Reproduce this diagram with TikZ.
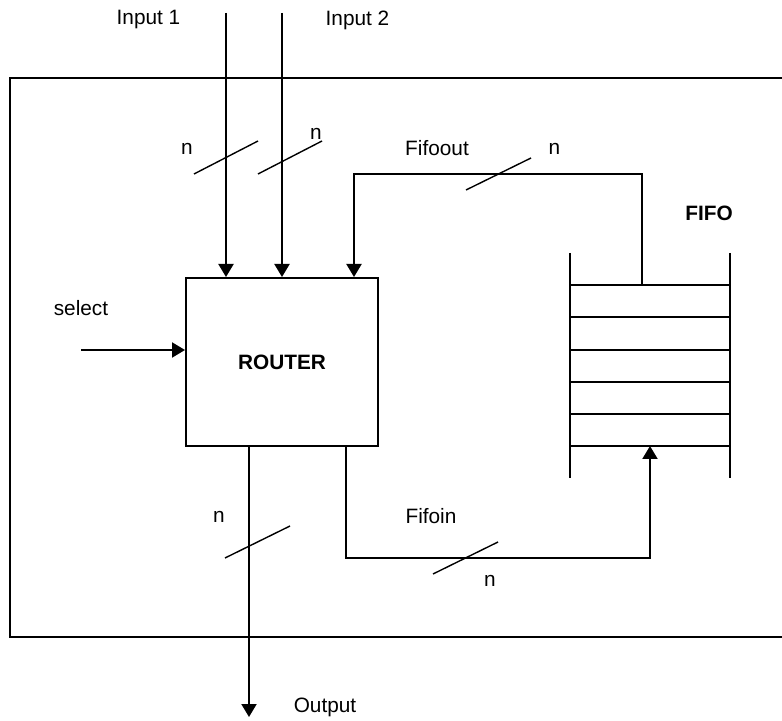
\documentclass[tikz,border=0pt]{standalone}
\usepackage{fontspec}
\setmainfont{Liberation Sans}
\usetikzlibrary{arrows.meta, positioning, calc}
\tikzset{
  myarr/.style   = {-{Triangle[length=6.5pt, width=7.5pt]}, line width=1pt},
  busmark/.style = {line width=0.7pt},
  %% Box presets
  rbox/.style = {draw, line width=1pt, minimum width=96pt, minimum height=84pt,
                 inner sep=0pt, font=\bfseries\fontsize{10.4}{12}\selectfont},
  lbl/.style  = {inner sep=0pt, font=\fontsize{10.4}{12}\selectfont},
}

\begin{document}
\begin{tikzpicture}[x=0.5pt, y=-0.5pt, line width=1pt]

\clip (0,0) rectangle (782,721);

%% ---- (1) Outer frame (runs off the right edge) ----
\draw (790,78) -- (10,78) -- (10,637) -- (790,637);

%% ---- (2) Router ----
\node[rbox] (router) at (282,362) {ROUTER};

%% ---- (3) FIFO stack ----
\draw (570,253) -- (570,478);
\draw (730,253) -- (730,478);
\foreach \y in {285,317.5,350,382,414,446}
  \draw (570,\y) -- (730,\y);
\coordinate (fifotop) at (642,285);
\coordinate (fifobot) at (650,446);
\node[lbl, font=\bfseries\fontsize{10.4}{12}\selectfont] (fifolbl) at (709,213) {FIFO};

%% ---- (4) Inputs ----
\coordinate (in1) at (226,13);
\coordinate (in2) at (282,13);
\draw[myarr] (in1) -- (in1 |- router.north);
\draw[myarr] (in2) -- (in2 |- router.north);
\node[lbl] (in1lbl) at (148.5,20) {Input 1};
\node[lbl] (in2lbl) at (357.5,20) {Input 2};
\draw[busmark] (194,174) -- (258,141);
\draw[busmark] (258,174) -- (322,141);
\node[lbl] (n1) at (187,149) {n};
\node[lbl] (n2) at (316,134) {n};

%% ---- (5) Select ----
\coordinate (sel) at (81,350);
\draw[myarr] (sel) -- (sel -| router.west);
\node[lbl] (sellbl) at (81,308) {select};

%% ---- (6) Fifoout: FIFO -> Router ----
\coordinate (foutbend) at (354,174);
\draw[myarr] (fifotop) |- (foutbend) -- (foutbend |- router.north);
\draw[busmark] (466,190) -- (531,158);
\node[lbl] (foutlbl) at (437,148) {Fifoout};
\node[lbl] (nfout)   at (554.5,149) {n};

%% ---- (7) Fifoin: Router -> FIFO ----
\coordinate (finbend) at (346,558);
\draw[myarr] (finbend |- router.south) -- (finbend) -| (fifobot);
\draw[busmark] (433,574) -- (498,542);
\node[lbl] (finlbl) at (431,516) {Fifoin};
\node[lbl] (nfin)   at (490,581) {n};

%% ---- (8) Output ----
\coordinate (outend) at (249,717);
\draw[myarr] (outend |- router.south) -- (outend);
\draw[busmark] (225,558) -- (290,526);
\node[lbl] (nout)   at (219,517) {n};
\node[lbl] (outlbl) at (325,707) {Output};

\end{tikzpicture}
\end{document}
